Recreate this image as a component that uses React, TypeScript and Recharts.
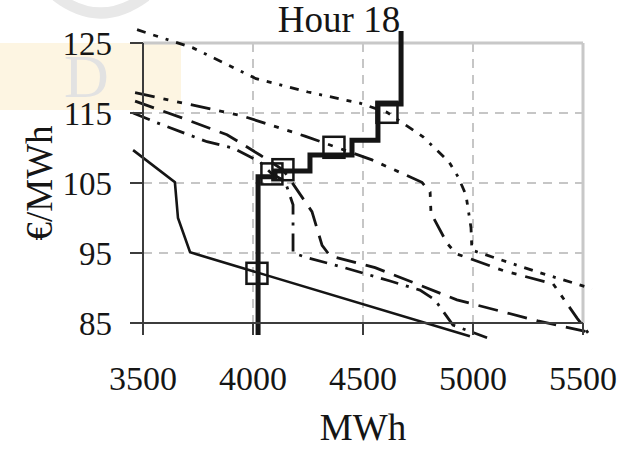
import React from "react";
import {
  ComposedChart,
  Line,
  Scatter,
  XAxis,
  YAxis,
  CartesianGrid,
  ReferenceLine,
} from "recharts";

const title = "Hour 18";
const xTicks = [3500, 4000, 4500, 5000, 5500];
const yTicks = [85, 95, 105, 115, 125];

// aggregated supply offer (thick step)
const supply = [
  { x: 4023, y: 83.3 },
  { x: 4023, y: 105.9 },
  { x: 4100, y: 105.9 },
  { x: 4100, y: 106.7 },
  { x: 4259, y: 106.7 },
  { x: 4259, y: 109 },
  { x: 4450, y: 109 },
  { x: 4450, y: 111.1 },
  { x: 4568, y: 111.1 },
  { x: 4568, y: 116.3 },
  { x: 4673, y: 116.3 },
  { x: 4673, y: 126.7 },
];

// demand curves
const demandSolid = [
  { x: 3455, y: 109.7 },
  { x: 3645, y: 105.1 },
  { x: 3659, y: 100 },
  { x: 3714, y: 95.1 },
  { x: 4986, y: 83.1 },
];

const demandTop = [
  { x: 3473, y: 126.9 },
  { x: 3727, y: 124.3 },
  { x: 4014, y: 119.9 },
  { x: 4250, y: 118.0 },
  { x: 4486, y: 116.4 },
  { x: 4609, y: 115.1 },
  { x: 4773, y: 111.6 },
  { x: 4891, y: 108.0 },
  { x: 4932, y: 105.9 },
  { x: 4968, y: 103.3 },
  { x: 4991, y: 98.6 },
  { x: 4995, y: 95.4 },
  { x: 5282, y: 92.4 },
  { x: 5541, y: 89.9 },
];

const demandMid = [
  { x: 3464, y: 117.9 },
  { x: 3950, y: 114.6 },
  { x: 4236, y: 111.7 },
  { x: 4541, y: 108.3 },
  { x: 4768, y: 105.1 },
  { x: 4805, y: 103.7 },
  { x: 4809, y: 100.7 },
  { x: 4882, y: 96.4 },
  { x: 4923, y: 94.9 },
  { x: 5145, y: 92.4 },
  { x: 5364, y: 90.6 },
  { x: 5473, y: 85.7 },
  { x: 5523, y: 83.6 },
];

const demandDashDot = [
  { x: 3455, y: 115.0 },
  { x: 3564, y: 113.6 },
  { x: 3791, y: 110.9 },
  { x: 3909, y: 110.0 },
  { x: 4032, y: 108.0 },
  { x: 4086, y: 106.3 },
  { x: 4145, y: 105.3 },
  { x: 4182, y: 101.9 },
  { x: 4182, y: 95.0 },
  { x: 4250, y: 94.3 },
  { x: 4405, y: 93.0 },
  { x: 4623, y: 91.0 },
  { x: 4759, y: 89.7 },
  { x: 4827, y: 88.3 },
  { x: 4909, y: 84.7 },
  { x: 5064, y: 82.9 },
];

const demandDash = [
  { x: 3464, y: 116.7 },
  { x: 3677, y: 114.3 },
  { x: 3882, y: 111.9 },
  { x: 4032, y: 109.0 },
  { x: 4136, y: 106.9 },
  { x: 4177, y: 105.1 },
  { x: 4268, y: 100.9 },
  { x: 4314, y: 96.1 },
  { x: 4350, y: 94.6 },
  { x: 4555, y: 92.9 },
  { x: 4759, y: 90.4 },
  { x: 4927, y: 88.3 },
  { x: 5295, y: 85.3 },
  { x: 5541, y: 83.6 },
];

// clearing points
const clearing = [
  { x: 4018, y: 92.1 },
  { x: 4086, y: 106.3 },
  { x: 4136, y: 106.9 },
  { x: 4368, y: 110.1 },
  { x: 4609, y: 115.1 },
];

const font = "'Liberation Serif', 'Times New Roman', serif";
const ink = "#151515";

function SquareMark(props: any) {
  const { cx, cy } = props;
  return (
    <rect
      x={cx - 10.5}
      y={cy - 10.5}
      width={21}
      height={21}
      fill="none"
      stroke={ink}
      strokeWidth={2.5}
    />
  );
}

function YLabel(props: any) {
  const vb = props.viewBox;
  const cx = 52;
  const cy = vb.y + vb.height / 2;
  return (
    <text
      x={cx}
      y={cy}
      transform={`rotate(-90, ${cx}, ${cy})`}
      textAnchor="middle"
      fontFamily={font}
      fontSize={37}
      fill={ink}
    >
      €/MWh
    </text>
  );
}

function XLabel(props: any) {
  const vb = props.viewBox;
  return (
    <text
      x={vb.x + vb.width / 2}
      y={440}
      textAnchor="middle"
      fontFamily={font}
      fontSize={37}
      fill={ink}
    >
      MWh
    </text>
  );
}

export default function App() {
  const lineProps = {
    type: "linear" as const,
    dataKey: "y",
    stroke: ink,
    dot: false,
    activeDot: false,
    isAnimationActive: false,
  };
  return (
    <div style={{ position: "relative", width: 638, height: 449 }}>
      <style>{`body{margin:0} .recharts-line, .recharts-scatter, .recharts-line-curve { clip-path: none !important; }`}</style>
      {/* faint watermark behind the chart */}
      <div
        style={{
          position: "absolute",
          left: 0,
          top: 43,
          width: 181,
          height: 67,
          background: "#fdf5e2",
        }}
      />
      <div
        style={{
          position: "absolute",
          left: 64,
          top: 44,
          fontFamily: font,
          fontSize: 62,
          lineHeight: "64px",
          color: "#e2e2e2",
        }}
      >
        D
      </div>
      <svg
        width={160}
        height={20}
        style={{ position: "absolute", left: 0, top: 0 }}
      >
        <path d="M 56 -4 Q 100 30 146 -4" stroke="#e8e8e8" strokeWidth={11} fill="none" />
      </svg>
      <div style={{ position: "absolute", left: 0, top: 0 }}>
        <ComposedChart
          width={638}
          height={449}
          margin={{ top: 43, right: 55, left: 0, bottom: 0 }}
        >
          <text
            x={339}
            y={32}
            textAnchor="middle"
            fontFamily={font}
            fontSize={37}
            fill={ink}
          >
            {title}
          </text>
          <CartesianGrid stroke="#b4b4b4" strokeDasharray="9 7" strokeWidth={1.5} />
          <XAxis
            type="number"
            dataKey="x"
            domain={[3500, 5500]}
            ticks={xTicks}
            allowDataOverflow
            height={126}
            tickSize={12}
            tickMargin={31}
            axisLine={{ stroke: "#3c3c3c", strokeWidth: 2 }}
            tickLine={{ stroke: "#3c3c3c", strokeWidth: 2 }}
            tick={{ fontFamily: font, fontSize: 34, fill: ink }}
            label={<XLabel />}
          />
          <YAxis
            type="number"
            dataKey="y"
            domain={[85, 125]}
            ticks={yTicks}
            allowDataOverflow
            width={143}
            tickSize={13}
            tickMargin={18}
            axisLine={{ stroke: "#3c3c3c", strokeWidth: 2 }}
            tickLine={{ stroke: "#3c3c3c", strokeWidth: 2 }}
            tick={{ fontFamily: font, fontSize: 33, fill: ink }}
            label={<YLabel />}
          />
          <ReferenceLine y={125} stroke="#c8c8c8" strokeWidth={3} />
          <ReferenceLine x={5500} stroke="#c8c8c8" strokeWidth={3} />
          <Line {...lineProps} data={demandSolid} strokeWidth={2.6} />
          <Line {...lineProps} data={demandTop} strokeWidth={2.8} strokeDasharray="9 8 5 8 3 8" />
          <Line {...lineProps} data={demandMid} strokeWidth={2.8} strokeDasharray="20 9 5 9 5 9" />
          <Line {...lineProps} data={demandDashDot} strokeWidth={2.8} strokeDasharray="18 8 3 8" />
          <Line {...lineProps} data={demandDash} strokeWidth={2.8} strokeDasharray="20 10" />
          <Line {...lineProps} data={supply} strokeWidth={5} />
          <Scatter data={clearing} dataKey="y" shape={SquareMark} isAnimationActive={false} />
        </ComposedChart>
      </div>
    </div>
  );
}
